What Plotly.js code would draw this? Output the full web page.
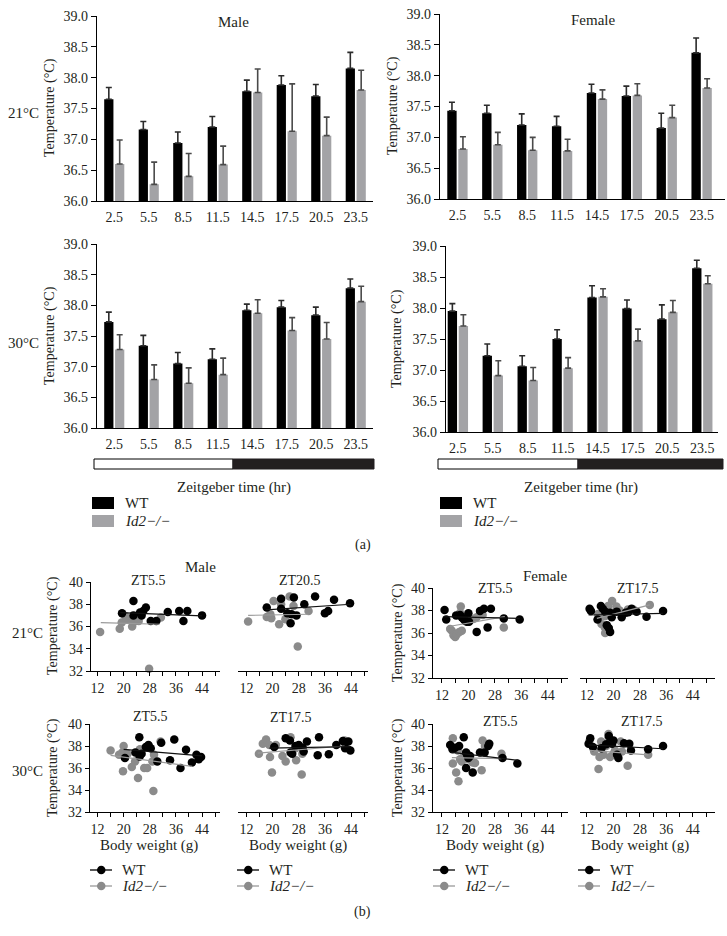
<!DOCTYPE html>
<html><head><meta charset="utf-8">
<script src="https://cdn.plot.ly/plotly-3.0.1.min.js"></script>
<style>html,body{margin:0;padding:0;background:#fff}#chart{width:727px;height:936px}</style>
</head><body><div id="chart"></div>
<script>
// ---------- (a) bar data ----------
const cats = ["2.5","5.5","8.5","11.5","14.5","17.5","20.5","23.5"];
const m21Wt    = [37.65,37.16,36.94,37.20,37.78,37.88,37.70,38.15];
const m21WtErr = [0.19,0.13,0.18,0.17,0.18,0.15,0.19,0.26];
const m21Ko    = [36.60,36.27,36.40,36.59,37.76,37.13,37.06,37.80];
const m21KoErr = [0.39,0.36,0.37,0.30,0.38,0.77,0.30,0.32];
const f21Wt    = [37.43,37.39,37.20,37.18,37.72,37.67,37.15,38.37];
const f21WtErr = [0.14,0.13,0.18,0.16,0.14,0.16,0.24,0.24];
const f21Ko    = [36.81,36.88,36.79,36.78,37.62,37.68,37.32,37.80];
const f21KoErr = [0.20,0.20,0.21,0.19,0.15,0.19,0.20,0.15];
const m30Wt    = [37.73,37.34,37.05,37.12,37.92,37.97,37.84,38.28];
const m30WtErr = [0.16,0.17,0.18,0.17,0.10,0.11,0.13,0.15];
const m30Ko    = [37.28,36.79,36.73,36.87,37.87,37.59,37.45,38.06];
const m30KoErr = [0.24,0.24,0.25,0.27,0.22,0.21,0.27,0.25];
const f30Wt    = [37.95,37.23,37.06,37.50,38.17,37.99,37.82,38.64];
const f30WtErr = [0.12,0.19,0.17,0.15,0.19,0.14,0.23,0.13];
const f30Ko    = [37.71,36.91,36.83,37.03,38.18,37.47,37.93,38.39];
const f30KoErr = [0.18,0.24,0.21,0.17,0.13,0.19,0.19,0.13];
const barTempTicks = [36,36.5,37,37.5,38,38.5,39];

// ---------- (b) scatter data (body weight g, temperature C) ----------
const aWtX=[19.5,23,23,25,25.5,26,26.8,28.3,30,33.5,37,38.3,39.5,44];
const aWtY=[37.2,38.3,37.0,37.25,37.0,37.4,37.7,36.5,36.5,37.3,37.4,36.5,37.4,37.0];
const aKoX=[12.8,18.8,19.4,20.5,21,22.6,23.1,24,24.6,27.8,31.4];
const aKoY=[35.5,35.8,36.35,36.95,36.6,36.0,36.4,36.6,36.5,32.2,36.8];
const aWtFitX=[19,44], aWtFitY=[37.25,36.95];
const aKoFitX=[13,31], aKoFitY=[36.35,36.2];

const bWtX=[18.2,22.6,22.6,24.5,25.5,25.8,26.5,27.3,29.7,33,36,37,38.8,43.7];
const bWtY=[37.7,38.5,37.6,37.2,36.3,37.1,38.6,37.0,38.0,38.7,37.2,37.4,38.4,38.1];
const bKoX=[12.5,18.2,19.3,19.6,20.3,22,22.6,23.9,25.2,26.4,27.7,31];
const bKoY=[36.45,36.85,37.1,36.75,38.3,36.2,38.0,36.65,38.7,37.85,34.2,37.4];
const bWtFitX=[18,44], bWtFitY=[37.5,38.0];
const bKoFitX=[12.5,31], bKoFitY=[37.0,37.1];

const cWtX=[12.8,13.3,16.3,17.5,18,18.5,19,19.5,20,20.2,22.5,23.5,24.7,25.8,26.8,30.7,35.5];
const cWtY=[38.05,37.2,37.55,37.6,37.4,37.25,37.1,37.0,37.75,37.0,36.1,37.95,38.15,36.5,38.15,37.3,37.2];
const cKoX=[14.5,15,15.5,16,16.5,17.3,18,17.7,17.5,21.5,22.5,24.3,30.7];
const cKoY=[36.35,36.2,35.8,35.65,35.9,36.1,36.2,38.35,37.8,37.25,37.4,37.6,36.5];
const cWtFitX=[12.5,35.5], cWtFitY=[37.45,37.3];
const cKoFitX=[14.5,31], cKoFitY=[36.6,37.45];

const dWtX=[12.8,13.2,15.2,16.2,16.8,17.5,18.0,18.6,19.0,19.0,19.5,21.0,22.5,23.7,24.5,25.5,27,30,35];
const dWtY=[38.15,37.95,37.2,38.4,38.15,37.9,36.7,36.45,36.1,37.8,37.4,37.9,37.4,37.8,37.85,38.15,37.9,37.45,37.95];
const dKoX=[15.4,16.4,17.4,17.4,17.5,18.4,19.6,19.6,20.9,21.9,24.4,26,31];
const dKoY=[37.7,36.8,36.5,37.5,36.0,38.4,37.8,38.85,38.35,38.0,38.1,38.1,38.5];
const dWtFitX=[12.5,35], dWtFitY=[37.6,37.75];
const dKoFitX=[15,31], dKoFitY=[37.3,38.5];

const eWtX=[20.4,23.6,24.9,25.5,24.8,26.8,27.6,28.3,30.3,31.5,34.2,35.5,37.4,39.1,40.9,42.3,43,43.7];
const eWtY=[36.9,37.4,37.05,37.3,38.8,37.9,38.1,37.8,36.6,38.3,36.7,38.6,36.0,37.65,36.5,37.2,36.8,37.0];
const eKoX=[16,18.6,19.6,20,21.2,19.8,22.5,23.5,24.4,25,26.3,27.2,28.8,29.3,29.1,31.3];
const eKoY=[37.6,37.2,37.4,38.0,37.3,35.7,36.1,36.6,35.1,37.7,36.0,36.0,36.6,37.2,33.9,38.4];
const eWtFitX=[20,44], eWtFitY=[37.7,37.1];
const eKoFitX=[16,41], eKoFitY=[37.15,36.15];

const fWtX=[20.5,24,25.3,25.5,26,27,28,29.2,29.5,30.5,33.8,34.2,37.2,39.5,41.5,42.2,43.2,43.8];
const fWtY=[37.9,38.7,38.5,37.4,37.3,38.0,38.1,37.85,37.5,38.4,37.15,38.8,37.25,38.1,38.45,37.8,38.4,37.6];
const fKoX=[15.8,17,18,19,19.2,19.8,21,23,24,25.5,27.2,28.9,29.1,27,42];
const fKoY=[37.3,38.2,38.6,38.1,37.0,35.6,38.1,37.1,36.6,38.8,36.7,35.4,37.3,37.8,38.5];
const fWtFitX=[19,44], fWtFitY=[37.8,37.95];
const fKoFitX=[15.5,42], fKoFitY=[37.35,38.0];

const gWtX=[14.5,15.2,16,17.2,18.6,19.3,19.6,20,19.3,20.5,21.3,23.5,24.9,26,26.3,30.3,34.8];
const gWtY=[38.1,37.7,37.85,38.0,38.8,37.4,37.2,36.9,36.0,37.1,35.6,37.4,37.4,38.0,38.2,36.9,36.4];
const gKoX=[15.3,15.3,16.3,17,17.5,18,18.5,19.5,20,21.3,22,24,24.3,25,30,16.8];
const gKoY=[38.7,36.4,35.6,34.8,36.8,36.6,37.0,37.3,36.8,36.5,36.45,35.8,38.5,38.0,37.3,37.6];
const gWtFitX=[14.5,35], gWtFitY=[37.45,36.7];
const gKoFitX=[15,30], gKoFitY=[36.95,36.85];

const hWtX=[12.5,13,13.8,16.4,17.8,18.6,19.1,19.6,20,21.1,21.5,23.2,24.8,25.3,30.5,35];
const hWtY=[38.2,38.7,37.9,37.8,38.15,38.9,38.45,38.2,38.5,37.2,36.9,38.25,38.2,37.6,37.7,38.0];
const hKoX=[12.8,14.2,15.5,15.8,16.3,17,17.8,18.5,18.6,19,20,21.3,22.2,22.6,24.3,30.5,20.5];
const hKoY=[38.5,37.5,35.9,37.0,38.4,37.2,38.0,39.1,38.8,37.0,37.3,37.1,38.4,37.5,36.2,37.2,37.6];
const hWtFitX=[12.5,35], hWtFitY=[38.1,37.75];
const hKoFitX=[12.8,30.5], hKoFitY=[37.6,37.2];

const weightTicks=[12,20,28,36,44];
const weightMinor=[16,24,32,40,48];
const scatterTempTicks=[32,34,36,38,40];

// ---------- helpers ----------
const W=727, H=936;
const px = x => x/W;
const py = y => 1 - y/H;
const FONT = '"Liberation Serif","Times New Roman",serif';
const TXT = '#231f20';
const BLACK = '#000000', GREYBAR = '#a3a3a6', GREYPT = '#8b8b8b';
const f = s => ({family:FONT, size:s, color:TXT});

const traces = [];
const layout = {
  width: W, height: H, margin: {l:0, r:0, t:0, b:0},
  paper_bgcolor: '#fff', plot_bgcolor: 'rgba(0,0,0,0)',
  showlegend: false, barmode: 'group', bargap: 0.37, bargroupgap: 0.15,
  font: f(13), shapes: [], annotations: []
};

function ax(n){ return n===1 ? '' : String(n); }

// bar subplots
const barPanels = [
  {n:1, wt:m21Wt, wtE:m21WtErr, ko:m21Ko, koE:m21KoErr, x0:97, x1:373, y0:16, y1:201, xr:[-0.5,7.5]},
  {n:2, wt:f21Wt, wtE:f21WtErr, ko:f21Ko, koE:f21KoErr, x0:440, x1:725, y0:14, y1:199, xr:[-0.5,7.67]},
  {n:3, wt:m30Wt, wtE:m30WtErr, ko:m30Ko, koE:m30KoErr, x0:97, x1:373, y0:244, y1:428, xr:[-0.5,7.5]},
  {n:4, wt:f30Wt, wtE:f30WtErr, ko:f30Ko, koE:f30KoErr, x0:446, x1:718, y0:246, y1:432, xr:[-0.34,7.45]}
];
barPanels.forEach(p => {
  const s = ax(p.n);
  traces.push({type:'bar', x:cats, y:p.wt, xaxis:'x'+s, yaxis:'y'+s, marker:{color:BLACK, line:{width:0}},
    error_y:{type:'data', symmetric:false, array:p.wtE, arrayminus:p.wtE.map(()=>0), color:'#2b2b2b', thickness:1.6, width:3},
    hoverinfo:'skip'});
  traces.push({type:'bar', x:cats, y:p.ko, xaxis:'x'+s, yaxis:'y'+s, marker:{color:GREYBAR, line:{width:0}},
    error_y:{type:'data', symmetric:false, array:p.koE, arrayminus:p.koE.map(()=>0), color:'#4a4a4a', thickness:1.6, width:3},
    hoverinfo:'skip'});
  layout['xaxis'+s] = {domain:[px(p.x0), px(p.x1)], anchor:'y'+s, type:'category', range:p.xr,
    showline:true, linecolor:'#000', linewidth:1.2, ticks:'', showgrid:false, zeroline:false,
    tickfont:f(14), ticklabelstandoff:3};
  layout['yaxis'+s] = {domain:[py(p.y1), py(p.y0)], anchor:'x'+s, range:[36,39],
    tickmode:'array', tickvals:barTempTicks, tickformat:'.1f',
    showline:true, linecolor:'#000', linewidth:1.2, ticks:'outside', ticklen:5, tickcolor:'#000',
    showgrid:false, zeroline:false, tickfont:f(14)};
});

// scatter subplots
const scPanels = [
  {n:5,  wx:aWtX, wy:aWtY, kx:aKoX, ky:aKoY, wfx:aWtFitX, wfy:aWtFitY, kfx:aKoFitX, kfy:aKoFitY, x0:91,  x1:220, y0:582, y1:671, xr:[10,49.5], yax:true},
  {n:6,  wx:bWtX, wy:bWtY, kx:bKoX, ky:bKoY, wfx:bWtFitX, wfy:bWtFitY, kfx:bKoFitX, kfy:bKoFitY, x0:238, x1:368, y0:582, y1:671, xr:[9.4,49.2], yax:false},
  {n:7,  wx:cWtX, wy:cWtY, kx:cKoX, ky:cKoY, wfx:cWtFitX, wfy:cWtFitY, kfx:cKoFitX, kfy:cKoFitY, x0:433, x1:568, y0:588, y1:678, xr:[9.3,50.1], yax:true},
  {n:8,  wx:dWtX, wy:dWtY, kx:dKoX, ky:dKoY, wfx:dWtFitX, wfy:dWtFitY, kfx:dKoFitX, kfy:dKoFitY, x0:580, x1:715, y0:588, y1:678, xr:[9.9,50.7], yax:false},
  {n:9,  wx:eWtX, wy:eWtY, kx:eKoX, ky:eKoY, wfx:eWtFitX, wfy:eWtFitY, kfx:eKoFitX, kfy:eKoFitY, x0:90,  x1:220, y0:724, y1:812, xr:[9.7,49.5], yax:true},
  {n:10, wx:fWtX, wy:fWtY, kx:fKoX, ky:fKoY, wfx:fWtFitX, wfy:fWtFitY, kfx:fKoFitX, kfy:fKoFitY, x0:238, x1:368, y0:724, y1:812, xr:[9.4,49.2], yax:false},
  {n:11, wx:gWtX, wy:gWtY, kx:gKoX, ky:gKoY, wfx:gWtFitX, wfy:gWtFitY, kfx:gKoFitX, kfy:gKoFitY, x0:433, x1:568, y0:724, y1:812, xr:[9.3,50.1], yax:true},
  {n:12, wx:hWtX, wy:hWtY, kx:hKoX, ky:hKoY, wfx:hWtFitX, wfy:hWtFitY, kfx:hKoFitX, kfy:hKoFitY, x0:580, x1:715, y0:724, y1:812, xr:[9.9,50.7], yax:false}
];
scPanels.forEach(p => {
  const s = ax(p.n), xa='x'+s, ya='y'+s;
  traces.push({type:'scatter', mode:'markers', x:p.kx, y:p.ky, xaxis:xa, yaxis:ya,
    marker:{color:GREYPT, size:8.5, line:{width:0}}, hoverinfo:'skip', cliponaxis:false});
  traces.push({type:'scatter', mode:'markers', x:p.wx, y:p.wy, xaxis:xa, yaxis:ya,
    marker:{color:BLACK, size:8.5, line:{width:0}}, hoverinfo:'skip', cliponaxis:false});
  traces.push({type:'scatter', mode:'lines', x:p.kfx, y:p.kfy, xaxis:xa, yaxis:ya,
    line:{color:'#9a9a9a', width:1.2}, hoverinfo:'skip'});
  traces.push({type:'scatter', mode:'lines', x:p.wfx, y:p.wfy, xaxis:xa, yaxis:ya,
    line:{color:'#111', width:1.2}, hoverinfo:'skip'});
  layout['xaxis'+s] = {domain:[px(p.x0), px(p.x1)], anchor:ya, range:p.xr,
    tickmode:'array', tickvals:weightTicks, showline:true, linecolor:'#000', linewidth:1.2,
    ticks:'outside', ticklen:4, tickcolor:'#000', showgrid:false, zeroline:false,
    minor:{tickmode:'array', tickvals:weightMinor, ticks:'outside', ticklen:4, tickcolor:'#000', showgrid:false},
    tickfont:f(14)};
  layout['yaxis'+s] = {domain:[py(p.y1), py(p.y0)], anchor:xa, range:[32,40],
    tickmode:'array', tickvals:scatterTempTicks, showline:p.yax, showticklabels:p.yax,
    linecolor:'#000', linewidth:1.2, ticks:p.yax?'outside':'', ticklen:4, tickcolor:'#000',
    showgrid:false, zeroline:false, tickfont:f(14)};
});

// ---------- texts ----------
function txt(x, y, t, opt={}) {
  layout.annotations.push(Object.assign({xref:'paper', yref:'paper', x:px(x), y:py(y), text:t,
    showarrow:false, xanchor:'center', yanchor:'middle', font:f(14)}, opt));
}
const TEMP = 'Temperature (°C)';
// bar titles / labels
txt(233, 22, 'Male', {font:f(15)}); txt(593, 20, 'Female', {font:f(15)});
txt(24, 113, '21°C', {font:f(15)});
txt(24, 343, '30°C', {font:f(15)});
txt(50, 108, TEMP, {textangle:-90});
txt(393, 106, TEMP, {textangle:-90});
txt(50, 336, TEMP, {textangle:-90});
txt(397, 339, TEMP, {textangle:-90});

// day/night bars
const dayBars = [{x0:94, xm:233, x1:374}, {x0:438, xm:578, x1:723}];
dayBars.forEach(d => {
  layout.shapes.push({type:'rect', xref:'paper', yref:'paper', x0:px(d.x0), x1:px(d.xm), y0:py(469), y1:py(459), fillcolor:'#fff', line:{color:'#000', width:1}});
  layout.shapes.push({type:'rect', xref:'paper', yref:'paper', x0:px(d.xm), x1:px(d.x1), y0:py(469), y1:py(459), fillcolor:'#231f20', line:{color:'#231f20', width:1}});
  txt((d.x0+d.x1)/2, 487, 'Zeitgeber time (hr)', {font:f(15)});
});
// bar legends
[{x:92}, {x:440}].forEach(l => {
  layout.shapes.push({type:'rect', xref:'paper', yref:'paper', x0:px(l.x), x1:px(l.x+22), y0:py(509), y1:py(497), fillcolor:'#000', line:{width:0}});
  layout.shapes.push({type:'rect', xref:'paper', yref:'paper', x0:px(l.x), x1:px(l.x+22), y0:py(527), y1:py(515), fillcolor:GREYBAR, line:{width:0}});
  txt(l.x+31, 503, 'WT', {xanchor:'left', font:f(15)});
  txt(l.x+31, 521, '<i>Id2−/−</i>', {xanchor:'left', font:f(15)});
});
txt(363, 545, '(a)');

// scatter titles
txt(200, 567, 'Male', {font:f(15)}); txt(545, 576, 'Female', {font:f(15)});
txt(148, 580, 'ZT5.5'); txt(300, 580, 'ZT20.5');
txt(495, 588, 'ZT5.5'); txt(638, 588, 'ZT17.5');
txt(150, 716, 'ZT5.5'); txt(291, 717, 'ZT17.5');
txt(500, 721, 'ZT5.5'); txt(642, 721, 'ZT17.5');
txt(27, 633, '21°C', {font:f(15)});
txt(27, 771, '30°C', {font:f(15)});
txt(53, 626, TEMP, {textangle:-90});
txt(398, 633, TEMP, {textangle:-90});
txt(53, 768, TEMP, {textangle:-90});
txt(398, 768, TEMP, {textangle:-90});
[149, 298, 495, 640].forEach(x => txt(x, 845, 'Body weight (g)', {font:f(15)}));

// scatter legends
[{x:90}, {x:237}, {x:433}, {x:578}].forEach(l => {
  [{y:870, c:'#000', t:'WT', lc:'#000'}, {y:886, c:GREYPT, t:'<i>Id2−/−</i>', lc:'#9a9a9a'}].forEach(r => {
    layout.shapes.push({type:'line', xref:'paper', yref:'paper', x0:px(l.x), x1:px(l.x+22), y0:py(r.y), y1:py(r.y), line:{color:r.lc, width:1.3}});
    layout.shapes.push({type:'circle', xref:'paper', yref:'paper', x0:px(l.x+7), x1:px(l.x+15.5), y0:py(r.y+4.25), y1:py(r.y-4.25), fillcolor:r.c, line:{width:0}});
    txt(l.x+30, r.y, r.t, {xanchor:'left', font:f(15)});
  });
});
txt(362, 912, '(b)');

Plotly.newPlot('chart', traces, layout, {staticPlot:true, displayModeBar:false});
</script></body></html>
